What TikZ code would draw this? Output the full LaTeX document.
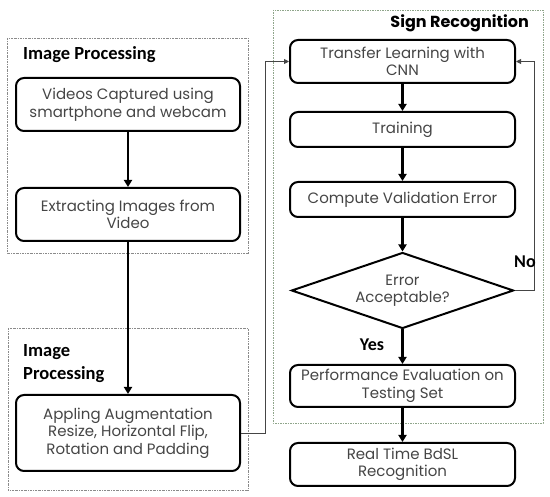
\documentclass[tikz,border=0pt]{standalone}
\usepackage{fontspec}
\setmainfont{Poppins}
\newfontfamily\titlefont{Carlito}
\usetikzlibrary{arrows.meta,shapes.geometric}
\definecolor{txtgray}{HTML}{454545}
\definecolor{framegray}{HTML}{8A8A8A}
\definecolor{framegreen}{HTML}{8FA58A}
\tikzset{
  procbox/.style={draw=black,line width=2pt,rounded corners=8pt,minimum width=224pt,
    align=center,text=txtgray,font=\fontsize{15}{17.5}\selectfont,inner sep=2pt},
  decbox/.style={draw=black,line width=2pt,shape=diamond,minimum width=222pt,minimum height=76pt,
    inner sep=0pt,aspect=3,align=center,text=txtgray,font=\fontsize{15}{17.5}\selectfont},
  frame/.style={draw=framegray,line width=0.7pt,dash pattern=on 2pt off 1pt on 0.6pt off 1pt},
  gframe/.style={draw=framegreen,line width=0.8pt,dash pattern=on 1.5pt off 1pt},
  ttl/.style={font=\titlefont\bfseries\fontsize{18.5}{23}\selectfont,text=black,inner sep=0pt,align=left},
  ttlb/.style={font=\bfseries\fontsize{16}{20}\selectfont,text=black,inner sep=0pt},
  flow/.style={line width=2.2pt,-{Triangle[width=8pt,length=7pt]}},
  back/.style={draw=txtgray,line width=0.9pt,-{Triangle[width=5pt,length=5pt]}},
  lbl/.style={font=\titlefont\bfseries\fontsize{18}{20}\selectfont,text=black,inner sep=0pt}
}
\begin{document}
\begin{tikzpicture}[x=1pt,y=-1pt]
\useasboundingbox (0,0) rectangle (550,497);
% frames
\draw[frame] (7,38) rectangle (248,253);
\draw[frame] (8,328) rectangle (248,490);
\draw[gframe] (273,10) rectangle (543,423);
% titles
\node[ttl,anchor=base west] (t1) at (23,60) {Image Processing};
\node[ttl,anchor=base west] (t2) at (23,357) {Image};
\node[ttl,anchor=base west] (t2b) at (23,380) {Processing};
\node[ttlb,anchor=base east] (t3) at (529,28) {Sign Recognition};
% left boxes
\node[procbox,minimum height=53pt] (b1) at (128,104.5) {Videos Captured using\\smartphone and webcam};
\node[procbox,minimum height=53pt] (b2) at (128,214.5) {Extracting Images from\\Video};
\node[procbox,minimum height=76pt] (b3) at (128,433) {Appling Augmentation\\Resize, Horizontal Flip,\\Rotation and Padding};
% right boxes
\node[procbox,minimum width=225pt,minimum height=43pt] (b4) at (402.5,61.5) {Transfer Learning with\\CNN};
\node[procbox,minimum width=225pt,minimum height=35pt] (b5) at (402.5,129.5) {Training};
\node[procbox,minimum width=225pt,minimum height=35pt] (b6) at (402.5,199.5) {Compute Validation Error};
\node[decbox] (d) at (402.5,290.5) {Error\\Acceptable?};
\node[procbox,minimum width=225pt,minimum height=42pt] (b7) at (402.5,386) {Performance Evaluation on\\Testing Set};
\node[procbox,minimum width=225pt,minimum height=43pt] (b8) at (402.5,464.5) {Real Time BdSL\\Recognition};
% flows
\draw[flow] (b1.south) -- (b2.north);
\draw[flow] (b2.south) -- (b3.north);
\draw[flow] (b4.south) -- (b5.north);
\draw[flow] (b5.south) -- (b6.north);
\draw[flow] (b6.south) -- (d.north);
\draw[flow] (d.south) -- (b7.north);
\node[lbl,anchor=center] (yes) at (372,345) {Yes};
\draw[flow] (b7.south) -- (b8.north);
% back connectors
\coordinate (c1) at (265,433);
\draw[back] (b3.east) -- (c1) |- (b4.west);
\coordinate (c2) at (534,290.5);
\draw[back] (d.east) -- (c2) |- (b4.east);
\node[lbl,anchor=center] (no) at (525,262) {No};
\end{tikzpicture}
\end{document}
